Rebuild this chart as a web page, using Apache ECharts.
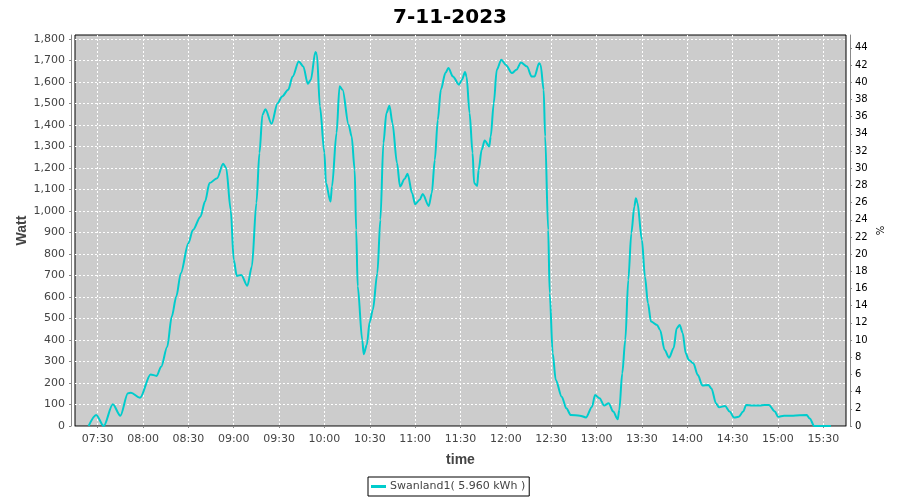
<!DOCTYPE html>
<html><head><meta charset="utf-8">
<script src="https://cdn.jsdelivr.net/npm/echarts@6/dist/echarts.min.js"></script>
<style>html,body{margin:0;padding:0;background:#fff}#c{width:900px;height:500px}</style>
</head><body><div id="c"></div>
<script>
const chartTitle = '7-11-2023';
const seriesName = 'Swanland1( 5.960 kWh )';
const xRange = ['07:15', '15:45'];
const xTickLabels = ['07:30','08:00','08:30','09:00','09:30','10:00','10:30','11:00','11:30','12:00','12:30','13:00','13:30','14:00','14:30','15:00','15:30'];
const wattTicks = [0,100,200,300,400,500,600,700,800,900,1000,1100,1200,1300,1400,1500,1600,1700,1800];
const pctTicks = [0,2,4,6,8,10,12,14,16,18,20,22,24,26,28,30,32,34,36,38,40,42,44];
const times = ['07:24','07:29','07:34','07:40','07:45','07:50','07:52','07:58','08:05','08:09','08:12','08:16','08:19','08:22','08:25','08:30','08:33','08:38','08:41','08:44','08:49','08:53','08:55','08:58','09:00','09:02','09:05','09:09','09:12','09:15','09:17','09:19','09:21','09:25','09:29','09:32','09:36','09:39','09:43','09:46','09:49','09:51','09:54','09:55','09:57','10:00','10:01','10:04','10:05','10:08','10:10','10:12','10:16','10:18','10:20','10:21','10:22','10:25','10:26','10:28','10:30','10:32','10:35','10:37','10:39','10:41','10:43','10:45','10:48','10:50','10:53','10:55','10:58','11:00','11:03','11:05','11:09','11:11','11:13','11:15','11:17','11:20','11:22','11:25','11:29','11:31','11:33','11:34','11:36','11:38','11:39','11:41','11:42','11:44','11:46','11:49','11:50','11:52','11:54','11:57','12:00','12:04','12:07','12:10','12:14','12:17','12:19','12:22','12:23','12:25','12:26','12:28','12:29','12:31','12:33','12:37','12:40','12:43','12:49','12:53','12:57','12:59','13:02','13:05','13:08','13:11','13:14','13:15','13:17','13:19','13:21','13:23','13:25','13:26','13:27','13:30','13:32','13:34','13:36','13:40','13:42','13:45','13:48','13:51','13:53','13:55','13:57','13:59','14:01','14:04','14:07','14:10','14:14','14:16','14:19','14:21','14:25','14:28','14:31','14:34','14:37','14:39','14:43','14:48','14:51','14:54','14:58','15:00','15:04','15:10','15:19','15:21','15:24','15:35'];
const watts = [0,51,0,101,48,152,155,131,240,233,276,369,509,602,711,850,912,974,1044,1130,1153,1220,1200,1006,773,698,703,652,742,1037,1270,1448,1474,1406,1502,1533,1564,1626,1696,1673,1592,1611,1740,1730,1487,1270,1130,1044,1114,1363,1580,1564,1401,1347,1192,912,650,400,334,377,486,540,711,959,1316,1456,1490,1409,1223,1114,1149,1173,1083,1032,1052,1079,1024,1083,1238,1425,1564,1642,1665,1626,1588,1611,1647,1626,1456,1270,1130,1117,1192,1285,1328,1300,1347,1502,1657,1704,1680,1642,1657,1691,1673,1626,1626,1688,1680,1564,1347,912,618,338,214,136,82,51,48,40,90,144,129,95,106,67,31,74,245,400,680,897,1021,1060,1040,866,695,571,486,470,447,354,318,362,455,470,432,338,307,292,237,188,191,175,106,87,93,67,39,43,67,98,95,95,98,98,67,43,48,48,51,35,0,0];

function toMin(s){const p=s.split(':');return (+p[0])*60+(+p[1]);}
function fmtMin(v){const h=Math.floor(v/60),m=Math.round(v-h*60);return String(h).padStart(2,'0')+':'+String(m).padStart(2,'0');}
const xTickVals = xTickLabels.map(toMin);
const data = times.map((t,i)=>[toMin(t), watts[i]]);

const FONT = 'DejaVu Sans';
const NAMEFONT = 'Liberation Sans';
const chart = echarts.init(document.getElementById('c'), null, {renderer:'canvas'});
chart.setOption({
  animation:false,
  backgroundColor:'#ffffff',
  title:{text:chartTitle,left:'center',top:3,textStyle:{fontFamily:FONT,fontSize:20,fontWeight:'bold',color:'#000'}},
  legend:{left:368,top:477,padding:[4,4,4,3],borderColor:'#000',borderWidth:1,icon:'rect',itemWidth:15,itemHeight:3,itemGap:0,
    textStyle:{fontFamily:FONT,fontSize:11,color:'#444',padding:[0,0,0,-1]},data:[seriesName]},
  grid:{left:75,right:54,top:35,bottom:74,show:true,backgroundColor:'#cccccc',borderColor:'#000',borderWidth:1,containLabel:false},
  xAxis:{type:'value',min:toMin(xRange[0]),max:toMin(xRange[1]),offset:3,
    name:'time',nameLocation:'middle',nameGap:24,nameMoveOverlap:false,nameTextStyle:{fontFamily:NAMEFONT,fontSize:14,fontWeight:'bold',color:'#444'},
    axisLine:{show:true,lineStyle:{color:'#888'}},
    axisTick:{show:true,length:2,inside:false,customValues:xTickVals,lineStyle:{color:'#888'}},
    axisLabel:{customValues:xTickVals,formatter:v=>fmtMin(v),fontFamily:FONT,fontSize:11,color:'#444',margin:5},
    splitLine:{show:true,lineStyle:{color:'#ffffff',type:[2,2],width:1}}},
  yAxis:[
    {type:'value',min:0,max:1819,position:'left',offset:4,
      name:'Watt',nameLocation:'middle',nameGap:42,nameMoveOverlap:false,nameRotate:90,nameTextStyle:{fontFamily:NAMEFONT,fontSize:14,fontWeight:'bold',color:'#444'},
      axisLine:{show:true,lineStyle:{color:'#888'}},
      axisTick:{show:true,length:2,inside:false,customValues:wattTicks,lineStyle:{color:'#888'}},
      axisLabel:{customValues:wattTicks,formatter:v=>v.toLocaleString('en-US'),fontFamily:FONT,fontSize:11,color:'#444',margin:6},
      splitLine:{show:true,lineStyle:{color:'#ffffff',type:[2,2],width:1}}},
    {type:'value',min:0,max:45.5,position:'right',offset:4,
      name:'%',nameLocation:'middle',nameGap:26,nameMoveOverlap:false,nameRotate:90,nameTextStyle:{fontFamily:FONT,fontSize:10,color:'#000'},
      axisLine:{show:true,lineStyle:{color:'#888'}},
      axisTick:{show:true,length:2,inside:false,customValues:pctTicks,lineStyle:{color:'#888'}},
      axisLabel:{customValues:pctTicks,fontFamily:FONT,fontSize:10,color:'#000',margin:5},
      splitLine:{show:false}}
  ],
  series:[{name:seriesName,type:'line',yAxisIndex:0,data:data,showSymbol:false,smooth:0.3,smoothMonotone:'x',
    lineStyle:{color:'#00cccc',width:2},itemStyle:{color:'#00cccc'}}]
});
</script></body></html>
